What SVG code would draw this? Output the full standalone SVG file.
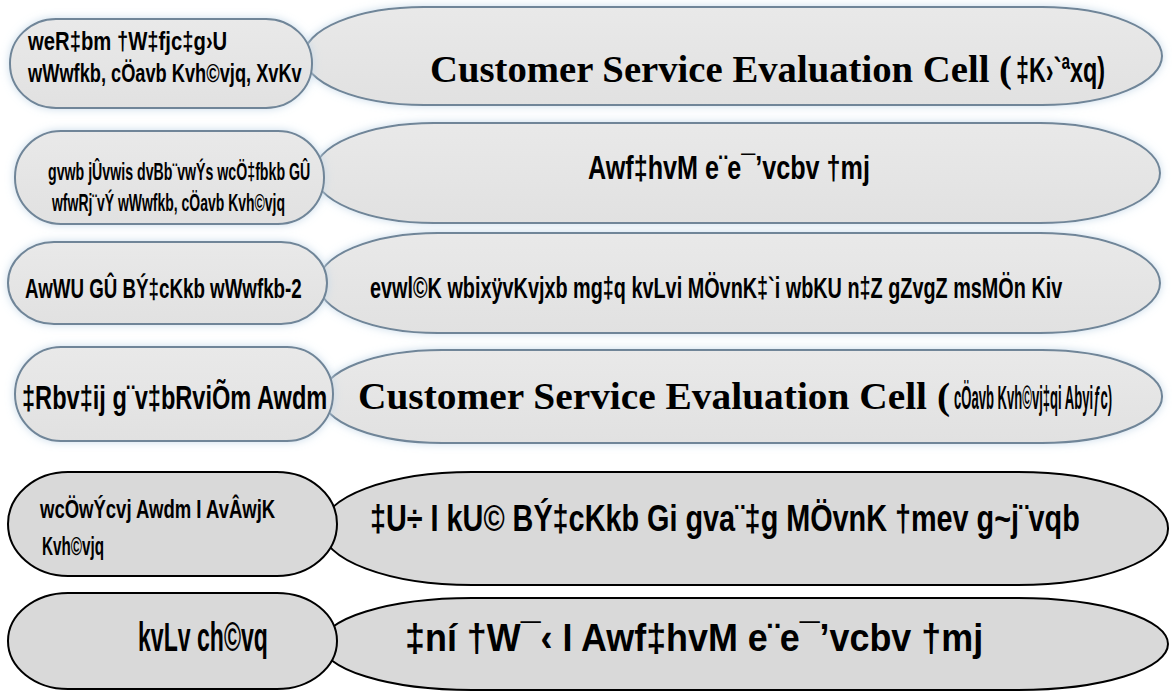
<svg xmlns="http://www.w3.org/2000/svg" width="1172" height="694" viewBox="0 0 1172 694">
<defs>
<linearGradient id="gfill" x1="0" y1="0" x2="0" y2="1">
<stop offset="0" stop-color="#e9e9e9"/>
<stop offset="1" stop-color="#e1e1e1"/>
</linearGradient>
<filter id="glow" x="-10%" y="-30%" width="120%" height="160%">
<feDropShadow dx="0" dy="0" stdDeviation="4" flood-color="#c4d8e8" flood-opacity="0.9"/>
</filter>
</defs>
<style>
.s1{fill:url(#gfill);stroke:#6f8598;stroke-width:2;filter:url(#glow)}
.s2{fill:#d9d9d9;stroke:#000;stroke-width:2}
.bn{font-family:"Liberation Sans","Arial",sans-serif;font-weight:bold;fill:#000}
.en{font-family:"Liberation Serif","Times New Roman",serif;font-weight:bold;fill:#000}
</style>
<rect width="1172" height="694" fill="#ffffff"/>

<g id="row1-right"><rect class="s1" x="304" y="7" width="858" height="98" rx="120" ry="49"/>
<text class="en" x="430" y="82" font-size="37" textLength="582" lengthAdjust="spacingAndGlyphs">Customer Service Evaluation Cell (</text>
<text class="bn" transform="translate(1016,82) scale(0.67,1)" font-size="35" textLength="133" lengthAdjust="spacingAndGlyphs">‡K›`ªxq)</text></g>
<g id="row1-left"><rect class="s1" x="10" y="19" width="302" height="89" rx="46" ry="44"/>
<text class="bn" transform="translate(28,50) scale(0.81,1)" font-size="25" textLength="246" lengthAdjust="spacingAndGlyphs">weR‡bm †W‡fjc‡g›U</text>
<text class="bn" transform="translate(28,82) scale(0.73,1)" font-size="25" textLength="375" lengthAdjust="spacingAndGlyphs">wWwfkb, cÖavb Kvh©vjq, XvKv</text></g>

<g id="row2-right"><rect class="s1" x="314" y="123" width="846" height="100" rx="120" ry="50"/>
<text class="bn" transform="translate(588,179) scale(0.74,1)" font-size="34" textLength="381" lengthAdjust="spacingAndGlyphs">Awf‡hvM e¨e¯’vcbv †mj</text></g>
<g id="row2-left"><rect class="s1" x="15" y="131" width="309" height="93" rx="46" ry="46"/>
<text class="bn" transform="translate(48,180) scale(0.62,1)" font-size="23" textLength="423" lengthAdjust="spacingAndGlyphs">gvwb jÛvwis dvBb¨vwÝs wcÖ‡fbkb GÛ</text>
<text class="bn" transform="translate(52,211) scale(0.61,1)" font-size="23" textLength="382" lengthAdjust="spacingAndGlyphs">wfwRj¨vÝ wWwfkb, cÖavb Kvh©vjq</text></g>

<g id="row3-right"><rect class="s1" x="318" y="233" width="842" height="100" rx="120" ry="50"/>
<text class="bn" transform="translate(370,298) scale(0.68,1)" font-size="29" textLength="1018" lengthAdjust="spacingAndGlyphs">evwl©K wbixÿvKvjxb mg‡q kvLvi MÖvnK‡`i wbKU n‡Z gZvgZ msMÖn Kiv</text></g>
<g id="row3-left"><rect class="s1" x="8" y="242" width="319" height="82" rx="46" ry="41"/>
<text class="bn" transform="translate(25,298) scale(0.69,1)" font-size="27" textLength="401" lengthAdjust="spacingAndGlyphs">AwWU GÛ BÝ‡cKkb wWwfkb-2</text></g>

<g id="row4-right"><rect class="s1" x="322" y="350" width="840" height="93" rx="120" ry="46"/>
<text class="en" x="358" y="409" font-size="37" textLength="592" lengthAdjust="spacingAndGlyphs">Customer Service Evaluation Cell (</text>
<text class="bn" transform="translate(954,409) scale(0.38,1)" font-size="34" textLength="416" lengthAdjust="spacingAndGlyphs">cÖavb Kvh©vj‡qi Abyiƒc)</text></g>
<g id="row4-left"><rect class="s1" x="15" y="347" width="318" height="94" rx="46" ry="47"/>
<text class="bn" transform="translate(22,409) scale(0.71,1)" font-size="33" textLength="430" lengthAdjust="spacingAndGlyphs">‡Rbv‡ij g¨v‡bRviÕm Awdm</text></g>

<g id="row5-right"><rect class="s2" x="322" y="472" width="846" height="113" rx="150" ry="56"/>
<text class="bn" transform="translate(370,531) scale(0.78,1)" font-size="37" textLength="910" lengthAdjust="spacingAndGlyphs">‡U÷ I kU© BÝ‡cKkb Gi gva¨‡g MÖvnK †mev g~j¨vqb</text></g>
<g id="row5-left"><rect class="s2" x="8" y="472" width="329" height="104" rx="60" ry="52"/>
<text class="bn" transform="translate(40,518) scale(0.7,1)" font-size="26" textLength="336" lengthAdjust="spacingAndGlyphs">wcÖwÝcvj Awdm I AvÂwjK</text>
<text class="bn" transform="translate(42,555) scale(0.58,1)" font-size="26" textLength="107" lengthAdjust="spacingAndGlyphs">Kvh©vjq</text></g>

<g id="row6-right"><rect class="s2" x="322" y="598" width="846" height="92" rx="150" ry="46"/>
<text class="bn" transform="translate(405,651) scale(0.94,1)" font-size="38" textLength="615" lengthAdjust="spacingAndGlyphs">‡ní †W¯‹ I Awf‡hvM e¨e¯’vcbv †mj</text></g>
<g id="row6-left"><rect class="s2" x="8" y="593" width="329" height="96" rx="60" ry="48"/>
<text class="bn" transform="translate(138,651) scale(0.58,1)" font-size="40" textLength="224" lengthAdjust="spacingAndGlyphs">kvLv ch©vq</text></g>

<g id="connectors"></g>
</svg>
